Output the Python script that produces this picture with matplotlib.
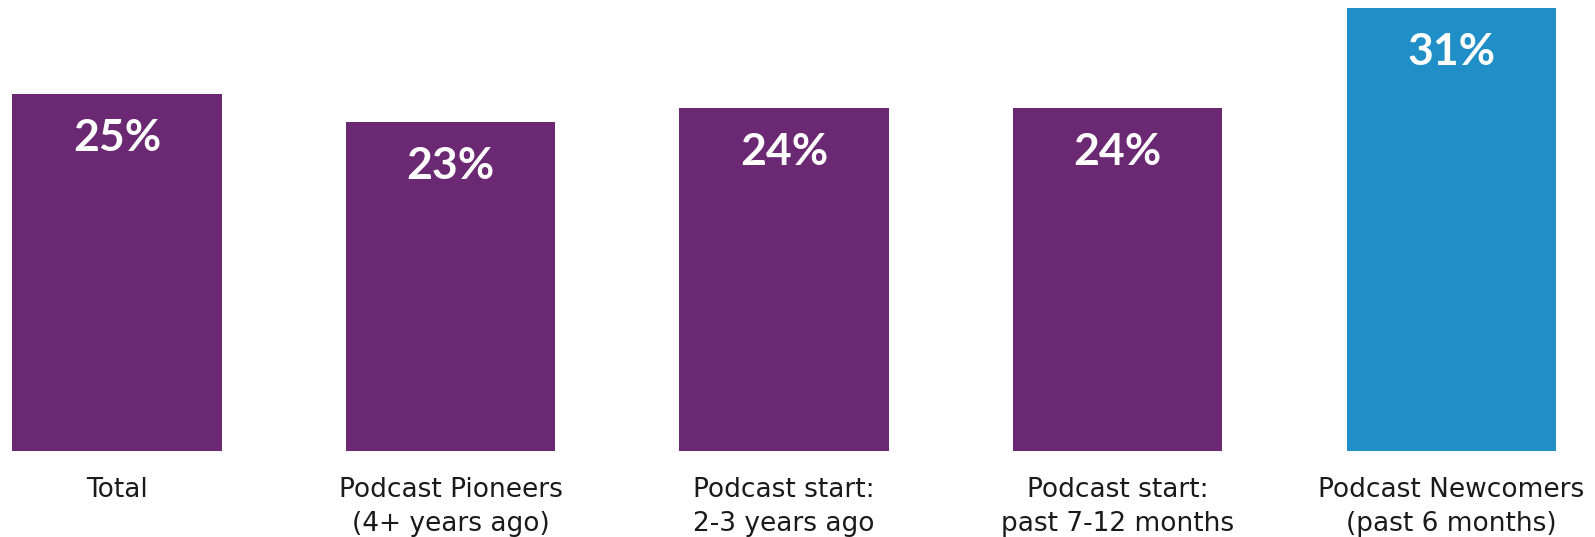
import matplotlib
matplotlib.use("Agg")
import matplotlib.pyplot as plt

categories = ["Total", "Podcast Pioneers\n(4+ years ago)", "Podcast start:\n2-3 years ago",
              "Podcast start:\npast 7-12 months", "Podcast Newcomers\n(past 6 months)"]
values = [25, 23, 24, 24, 31]
colors = ["#6B2873", "#6B2873", "#6B2873", "#6B2873", "#208FC7"]

plt.rcParams["font.family"] = ["Lato", "DejaVu Sans"]

fig = plt.figure(figsize=(15.95, 5.37), dpi=100)
ax = fig.add_axes([0, 0.161, 1, 0.839])

x = list(range(len(categories)))
bars = ax.bar(x, values, width=0.628, color=colors)
ax.set_xlim(-0.351, 4.431)
ax.set_ylim(0, 31.58)
ax.axis("off")

for xi, v in zip(x, values):
    ax.annotate(f"{v}%", (xi, v), xytext=(0, -44), textcoords="offset pixels",
                ha="center", va="center", color="white", fontsize=32, fontweight="bold")
    ax.annotate(categories[xi], (xi, 0), xytext=(0, -26), textcoords="offset pixels",
                ha="center", va="top", color="#1a1a1a", fontsize=19, linespacing=1.42,
                family=["DejaVu Sans"])

fig.savefig("out.png", dpi=100)
